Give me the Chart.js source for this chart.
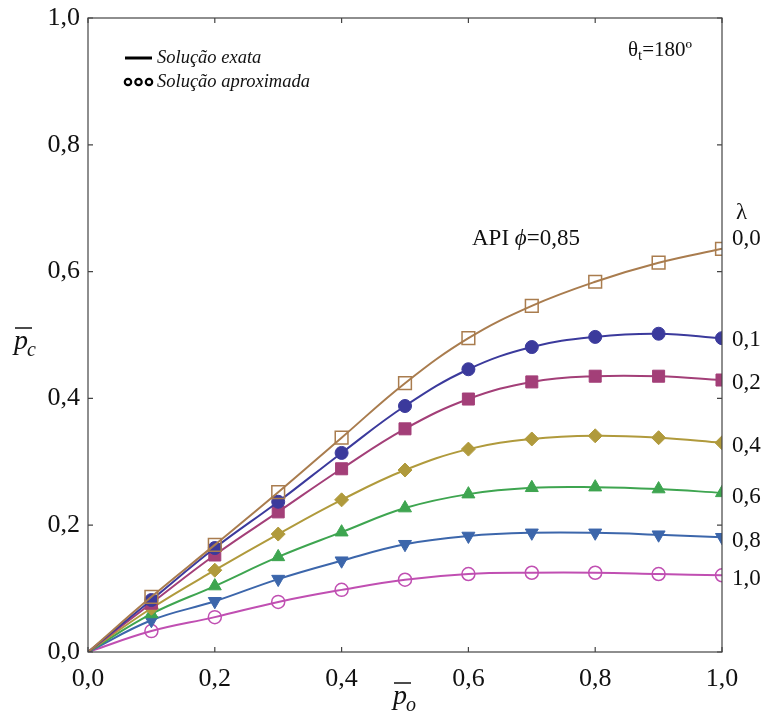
<!DOCTYPE html>
<html>
<head>
<meta charset="utf-8">
<script src="https://cdn.jsdelivr.net/npm/chart.js@4.4.1/dist/chart.umd.min.js"></script>
<style>
  html, body { margin: 0; padding: 0; background: #fff; }
  #wrap { width: 762px; height: 719px; }
</style>
</head>
<body>
<div id="wrap"><canvas id="grafico" width="762" height="719"></canvas></div>
<script>
// p_o values (x)
const po = [0, 0.1, 0.2, 0.3, 0.4, 0.5, 0.6, 0.7, 0.8, 0.9, 1.0];
const xTicks = [0, 0.2, 0.4, 0.6, 0.8, 1.0];
const yTicks = [0, 0.2, 0.4, 0.6, 0.8, 1.0];

// p_c for each lambda
const lambdas = ["0,0", "0,1", "0,2", "0,4", "0,6", "0,8", "1,0"];
const pcL00 = [0, 0.087, 0.169, 0.252, 0.338, 0.424, 0.495, 0.546, 0.584, 0.614, 0.636];
const pcL01 = [0, 0.082, 0.164, 0.237, 0.314, 0.388, 0.446, 0.481, 0.497, 0.502, 0.495];
const pcL02 = [0, 0.077, 0.153, 0.221, 0.289, 0.352, 0.399, 0.426, 0.435, 0.435, 0.429];
const pcL04 = [0, 0.069, 0.129, 0.186, 0.240, 0.287, 0.320, 0.336, 0.341, 0.338, 0.330];
const pcL06 = [0, 0.060, 0.104, 0.150, 0.189, 0.227, 0.249, 0.259, 0.260, 0.257, 0.251];
const pcL08 = [0, 0.050, 0.080, 0.115, 0.144, 0.170, 0.183, 0.188, 0.188, 0.185, 0.181];
const pcL10 = [0, 0.033, 0.055, 0.079, 0.098, 0.114, 0.123, 0.125, 0.125, 0.123, 0.121];

const series = [
  { lam: lambdas[0], data: pcL00, color: "#a97c4e", style: "rect", r: 9, open: true, dy: -10 },
  { lam: lambdas[1], data: pcL01, color: "#3b3a9c", style: "circle", r: 6.5, open: false, dy: 2 },
  { lam: lambdas[2], data: pcL02, color: "#a33f78", style: "rect", r: 8.5, open: false, dy: 3 },
  { lam: lambdas[3], data: pcL04, color: "#b09a3c", style: "rectRot", r: 7, open: false, dy: 3 },
  { lam: lambdas[4], data: pcL06, color: "#3ea550", style: "triangle", r: 7.5, open: false, dy: 4 },
  { lam: lambdas[5], data: pcL08, color: "#3c66ab", style: "triangle", r: 7.5, open: false, rot: 180, dy: 4 },
  { lam: lambdas[6], data: pcL10, color: "#c04fb2", style: "circle", r: 6.5, open: true, dy: 4 },
];

const SERIF = "'Liberation Serif', 'Times New Roman', serif";
const fmt = (v) => v.toFixed(1).replace(".", ",");

const datasets = series.map((s) => ({
  label: "λ=" + s.lam,
  data: po.map((x, i) => ({ x: x, y: s.data[i] })),
  borderColor: s.color,
  borderWidth: 2,
  tension: 0.4,
  pointStyle: s.style,
  pointRotation: s.rot || 0,
  pointRadius: (ctx) => (ctx.dataIndex === 0 ? 0 : s.r),
  pointBackgroundColor: s.open ? "rgba(0,0,0,0)" : s.color,
  pointBorderColor: s.color,
  pointBorderWidth: s.open ? 1.5 : 1,
}));

const overlay = {
  id: "overlay",
  afterDraw(chart) {
    const { ctx, chartArea: a, scales } = chart;
    const sx = scales.x, sy = scales.y;
    ctx.save();
    // frame
    ctx.strokeStyle = "#444";
    ctx.lineWidth = 1.2;
    ctx.strokeRect(a.left, a.top, a.right - a.left, a.bottom - a.top);
    // inward ticks on all sides
    const tl = 5;
    ctx.beginPath();
    xTicks.forEach((v) => {
      const px = sx.getPixelForValue(v);
      ctx.moveTo(px, a.bottom); ctx.lineTo(px, a.bottom - tl);
      ctx.moveTo(px, a.top); ctx.lineTo(px, a.top + tl);
    });
    yTicks.forEach((v) => {
      const py = sy.getPixelForValue(v);
      ctx.moveTo(a.left, py); ctx.lineTo(a.left + tl, py);
      ctx.moveTo(a.right, py); ctx.lineTo(a.right - tl, py);
    });
    ctx.stroke();

    ctx.fillStyle = "#111";
    ctx.textBaseline = "middle";

    // lambda labels on the right, next to each curve end
    ctx.font = "23px " + SERIF;
    ctx.textAlign = "left";
    series.forEach((s) => {
      const py = sy.getPixelForValue(s.data[s.data.length - 1]);
      ctx.fillText(s.lam, a.right + 10, py + s.dy);
    });
    ctx.fillText("λ", a.right + 14, 213);

    // API phi
    ctx.font = "23px " + SERIF;
    ctx.fillText("API ", 472, 239);
    let w = ctx.measureText("API ").width;
    ctx.font = "italic 23px " + SERIF;
    ctx.fillText("ϕ", 472 + w, 239);
    w += ctx.measureText("ϕ").width;
    ctx.font = "23px " + SERIF;
    ctx.fillText("=0,85", 472 + w, 239);

    // theta_t
    ctx.font = "21px " + SERIF;
    ctx.fillText("θ", 628, 50);
    let tx = 628 + ctx.measureText("θ").width;
    ctx.font = "15px " + SERIF;
    ctx.fillText("t", tx, 56);
    tx += ctx.measureText("t").width;
    ctx.font = "21px " + SERIF;
    ctx.fillText("=180º", tx, 50);

    // legend
    ctx.strokeStyle = "#000";
    ctx.lineWidth = 3;
    ctx.beginPath();
    ctx.moveTo(125, 58); ctx.lineTo(152, 58);
    ctx.stroke();
    ctx.lineWidth = 2.2;
    [128, 138.5, 149].forEach((cx) => {
      ctx.beginPath();
      ctx.arc(cx, 82, 3.2, 0, Math.PI * 2);
      ctx.stroke();
    });
    ctx.font = "italic 18.5px " + SERIF;
    ctx.fillText("Solução exata", 157, 58);
    ctx.fillText("Solução aproximada", 157, 82);

    // axis titles with overline
    const axisTitle = (x, y, sub) => {
      ctx.font = "italic 28px " + SERIF;
      ctx.textAlign = "left";
      ctx.fillText("p", x, y);
      const pw = ctx.measureText("p").width;
      ctx.font = "italic 20px " + SERIF;
      ctx.fillText(sub, x + pw - 1, y + 9);
      ctx.lineWidth = 1.5;
      ctx.strokeStyle = "#111";
      ctx.beginPath();
      ctx.moveTo(x + 1, y - 14); ctx.lineTo(x + pw + 4, y - 14);
      ctx.stroke();
    };
    axisTitle(14, 342, "c");
    axisTitle(393, 697, "o");
    ctx.restore();
  },
};

new Chart(document.getElementById("grafico"), {
  type: "line",
  data: { datasets: datasets },
  options: {
    responsive: false,
    animation: false,
    layout: { padding: { top: 18, right: 40, left: 0, bottom: 0 } },
    plugins: { legend: { display: false }, tooltip: { enabled: false } },
    scales: {
      x: {
        type: "linear",
        min: 0,
        max: 1,
        grid: { display: false, drawTicks: false },
        border: { display: false },
        afterBuildTicks: (scale) => { scale.ticks = xTicks.map((v) => ({ value: v })); },
        afterFit: (scale) => { scale.height = 67; scale.paddingLeft = 0; scale.paddingRight = 0; },
        ticks: {
          padding: 12,
          color: "#111",
          font: { family: SERIF, size: 26 },
          callback: (v) => fmt(v),
          maxRotation: 0,
        },
      },
      y: {
        type: "linear",
        min: 0,
        max: 1,
        grid: { display: false, drawTicks: false },
        border: { display: false },
        afterBuildTicks: (scale) => { scale.ticks = yTicks.map((v) => ({ value: v })); },
        afterFit: (scale) => { scale.width = 88; scale.paddingTop = 0; scale.paddingBottom = 0; },
        ticks: {
          padding: 8,
          color: "#111",
          font: { family: SERIF, size: 26 },
          callback: (v) => fmt(v),
        },
      },
    },
  },
  plugins: [overlay],
});
</script>
</body>
</html>
